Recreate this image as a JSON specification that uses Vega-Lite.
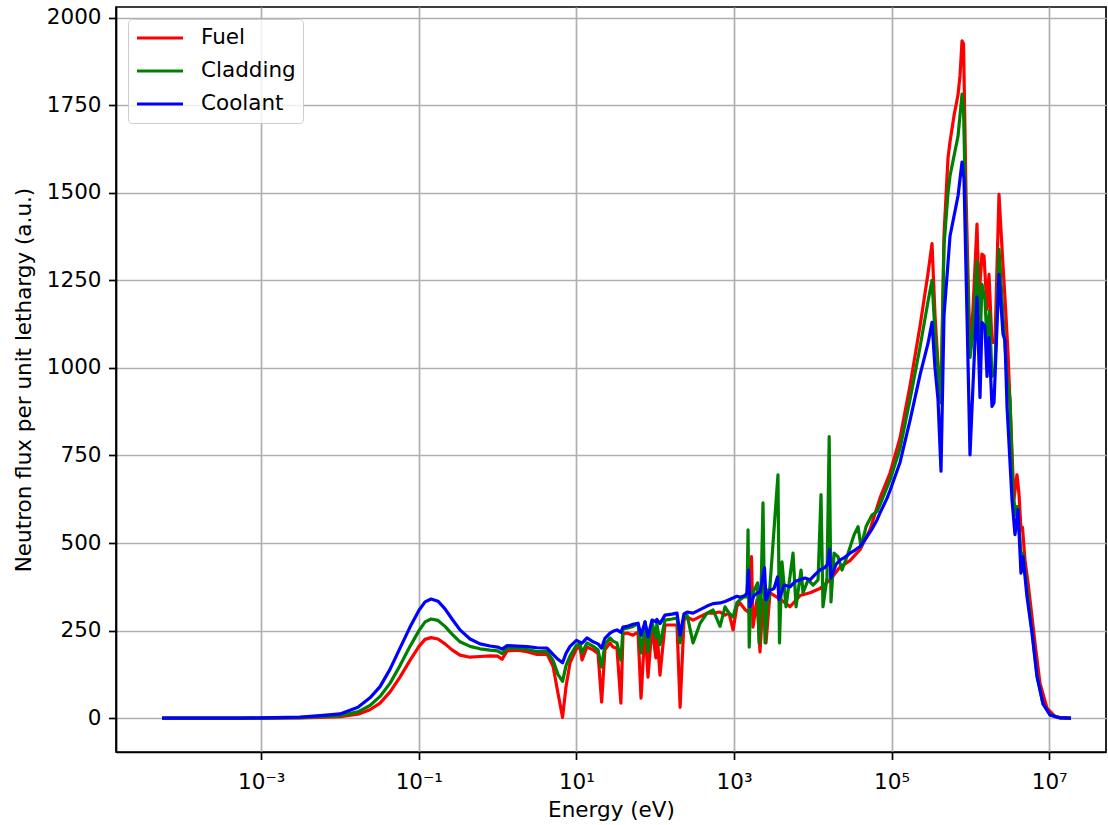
{
  "$schema": "https://vega.github.io/schema/vega-lite/v6.json",
  "width": 990,
  "height": 745,
  "autosize": {"type": "none"},
  "padding": {"left": 116, "top": 7, "right": 2, "bottom": 73},
  "background": "white",
  "config": {
    "font": "DejaVu Sans",
    "view": {"stroke": "#000000", "strokeWidth": 1.7},
    "axis": {
      "domainColor": "#000000", "domainWidth": 1.7,
      "tickColor": "#000000", "tickWidth": 1.7, "tickSize": 7.5,
      "gridColor": "#b0b0b0", "gridWidth": 1.7,
      "labelFont": "DejaVu Sans", "labelFontSize": 21.5, "labelColor": "#000000",
      "titleFont": "DejaVu Sans", "titleFontSize": 21.5, "titleFontWeight": "normal", "titleColor": "#000000"
    }
  },
  "data": {"values": [
    {"material":"Fuel","energy":5.51e-5,"flux":0},{"material":"Fuel","energy":1.67e-4,"flux":0},{"material":"Fuel","energy":5.38e-4,"flux":0},{"material":"Fuel","energy":1.02e-3,"flux":0.1},{"material":"Fuel","energy":3.1e-3,"flux":0.8},{"material":"Fuel","energy":5.57e-3,"flux":2},{"material":"Fuel","energy":0.01,"flux":4},{"material":"Fuel","energy":0.0169,"flux":11},{"material":"Fuel","energy":0.024,"flux":24},{"material":"Fuel","energy":0.0322,"flux":43},{"material":"Fuel","energy":0.0432,"flux":75},{"material":"Fuel","energy":0.0577,"flux":117},{"material":"Fuel","energy":0.0773,"flux":165},{"material":"Fuel","energy":0.1005,"flux":205},{"material":"Fuel","energy":0.12,"flux":225},{"material":"Fuel","energy":0.143,"flux":230},{"material":"Fuel","energy":0.175,"flux":226},{"material":"Fuel","energy":0.215,"flux":212},{"material":"Fuel","energy":0.264,"flux":195},{"material":"Fuel","energy":0.333,"flux":180},{"material":"Fuel","energy":0.447,"flux":174},{"material":"Fuel","energy":0.598,"flux":176},{"material":"Fuel","energy":0.802,"flux":178},{"material":"Fuel","energy":1.0,"flux":177},{"material":"Fuel","energy":1.14,"flux":168},{"material":"Fuel","energy":1.32,"flux":192},{"material":"Fuel","energy":1.76,"flux":194},{"material":"Fuel","energy":2.36,"flux":190},{"material":"Fuel","energy":3.16,"flux":182},{"material":"Fuel","energy":4.24,"flux":183},{"material":"Fuel","energy":5.05,"flux":148},{"material":"Fuel","energy":5.83,"flux":72},{"material":"Fuel","energy":6.67,"flux":2},{"material":"Fuel","energy":7.38,"flux":90},{"material":"Fuel","energy":8.3,"flux":158},{"material":"Fuel","energy":10,"flux":198},{"material":"Fuel","energy":11.1,"flux":203},{"material":"Fuel","energy":11.8,"flux":166},{"material":"Fuel","energy":13.6,"flux":203},{"material":"Fuel","energy":16.3,"flux":195},{"material":"Fuel","energy":18.8,"flux":185},{"material":"Fuel","energy":20.9,"flux":46},{"material":"Fuel","energy":23,"flux":195},{"material":"Fuel","energy":26.7,"flux":215},{"material":"Fuel","energy":29.1,"flux":203},{"material":"Fuel","energy":32.7,"flux":200},{"material":"Fuel","energy":36.7,"flux":43},{"material":"Fuel","energy":39,"flux":240},{"material":"Fuel","energy":43.9,"flux":243},{"material":"Fuel","energy":52.2,"flux":237},{"material":"Fuel","energy":60.5,"flux":246},{"material":"Fuel","energy":66.1,"flux":57},{"material":"Fuel","energy":74.3,"flux":260},{"material":"Fuel","energy":81,"flux":117},{"material":"Fuel","energy":91,"flux":260},{"material":"Fuel","energy":102,"flux":172},{"material":"Fuel","energy":105,"flux":252},{"material":"Fuel","energy":115,"flux":123},{"material":"Fuel","energy":133,"flux":266},{"material":"Fuel","energy":163,"flux":266},{"material":"Fuel","energy":189,"flux":266},{"material":"Fuel","energy":207,"flux":31},{"material":"Fuel","energy":232,"flux":280},{"material":"Fuel","energy":254,"flux":289},{"material":"Fuel","energy":302,"flux":280},{"material":"Fuel","energy":371,"flux":290},{"material":"Fuel","energy":455,"flux":300},{"material":"Fuel","energy":542,"flux":300},{"material":"Fuel","energy":665,"flux":303},{"material":"Fuel","energy":769,"flux":294},{"material":"Fuel","energy":865,"flux":300},{"material":"Fuel","energy":973,"flux":252},{"material":"Fuel","energy":1091,"flux":320},{"material":"Fuel","energy":1191,"flux":329},{"material":"Fuel","energy":1380,"flux":310},{"material":"Fuel","energy":1596,"flux":300},{"material":"Fuel","energy":1667,"flux":461},{"material":"Fuel","energy":1742,"flux":260},{"material":"Fuel","energy":1959,"flux":338},{"material":"Fuel","energy":2138,"flux":189},{"material":"Fuel","energy":2333,"flux":338},{"material":"Fuel","energy":2547,"flux":215},{"material":"Fuel","energy":2864,"flux":358},{"material":"Fuel","energy":3837,"flux":340},{"material":"Fuel","energy":5140,"flux":318},{"material":"Fuel","energy":6887,"flux":350},{"material":"Fuel","energy":9226,"flux":358},{"material":"Fuel","energy":12330,"flux":370},{"material":"Fuel","energy":16600,"flux":395},{"material":"Fuel","energy":22280,"flux":432},{"material":"Fuel","energy":29650,"flux":450},{"material":"Fuel","energy":39720,"flux":481},{"material":"Fuel","energy":53210,"flux":538},{"material":"Fuel","energy":71290,"flux":629},{"material":"Fuel","energy":95500,"flux":700},{"material":"Fuel","energy":127900,"flux":800},{"material":"Fuel","energy":171400,"flux":950},{"material":"Fuel","energy":229600,"flux":1120},{"material":"Fuel","energy":289700,"flux":1270},{"material":"Fuel","energy":325800,"flux":1355},{"material":"Fuel","energy":355600,"flux":1150},{"material":"Fuel","energy":388200,"flux":1010},{"material":"Fuel","energy":423600,"flux":910},{"material":"Fuel","energy":462400,"flux":1380},{"material":"Fuel","energy":520000,"flux":1600},{"material":"Fuel","energy":550800,"flux":1645},{"material":"Fuel","energy":619400,"flux":1720},{"material":"Fuel","energy":696600,"flux":1780},{"material":"Fuel","energy":738200,"flux":1834},{"material":"Fuel","energy":783400,"flux":1934},{"material":"Fuel","energy":818500,"flux":1925},{"material":"Fuel","energy":879000,"flux":1500},{"material":"Fuel","energy":988500,"flux":1040},{"material":"Fuel","energy":1079000,"flux":1167},{"material":"Fuel","energy":1213000,"flux":1411},{"material":"Fuel","energy":1285000,"flux":1196},{"material":"Fuel","energy":1403000,"flux":1325},{"material":"Fuel","energy":1489000,"flux":1320},{"material":"Fuel","energy":1626000,"flux":1167},{"material":"Fuel","energy":1722000,"flux":1267},{"material":"Fuel","energy":1879000,"flux":1073},{"material":"Fuel","energy":2051000,"flux":1073},{"material":"Fuel","energy":2307000,"flux":1496},{"material":"Fuel","energy":2594000,"flux":1291},{"material":"Fuel","energy":2748000,"flux":1200},{"material":"Fuel","energy":3000000,"flux":1044},{"material":"Fuel","energy":3184000,"flux":900},{"material":"Fuel","energy":3570000,"flux":624},{"material":"Fuel","energy":3900000,"flux":695},{"material":"Fuel","energy":4140000,"flux":640},{"material":"Fuel","energy":4385000,"flux":538},{"material":"Fuel","energy":4580000,"flux":545},{"material":"Fuel","energy":4930000,"flux":452},{"material":"Fuel","energy":5390000,"flux":386},{"material":"Fuel","energy":6610000,"flux":214},{"material":"Fuel","energy":7638000,"flux":100},{"material":"Fuel","energy":9376000,"flux":29},{"material":"Fuel","energy":11830000,"flux":5},{"material":"Fuel","energy":13710000,"flux":1.5},{"material":"Fuel","energy":18920000,"flux":0},

    {"material":"Cladding","energy":5.51e-5,"flux":0},{"material":"Cladding","energy":1.67e-4,"flux":0},{"material":"Cladding","energy":5.38e-4,"flux":0.1},{"material":"Cladding","energy":1.02e-3,"flux":0.3},{"material":"Cladding","energy":3.1e-3,"flux":1.5},{"material":"Cladding","energy":5.57e-3,"flux":4},{"material":"Cladding","energy":0.01,"flux":7},{"material":"Cladding","energy":0.0169,"flux":18},{"material":"Cladding","energy":0.024,"flux":36},{"material":"Cladding","energy":0.0322,"flux":62},{"material":"Cladding","energy":0.0432,"flux":100},{"material":"Cladding","energy":0.0577,"flux":150},{"material":"Cladding","energy":0.0773,"flux":205},{"material":"Cladding","energy":0.1005,"flux":250},{"material":"Cladding","energy":0.12,"flux":275},{"material":"Cladding","energy":0.143,"flux":283},{"material":"Cladding","energy":0.175,"flux":279},{"material":"Cladding","energy":0.215,"flux":262},{"material":"Cladding","energy":0.264,"flux":240},{"material":"Cladding","energy":0.333,"flux":218},{"material":"Cladding","energy":0.447,"flux":205},{"material":"Cladding","energy":0.598,"flux":198},{"material":"Cladding","energy":0.802,"flux":194},{"material":"Cladding","energy":1.0,"flux":192},{"material":"Cladding","energy":1.14,"flux":184},{"material":"Cladding","energy":1.32,"flux":200},{"material":"Cladding","energy":1.76,"flux":200},{"material":"Cladding","energy":2.36,"flux":196},{"material":"Cladding","energy":3.16,"flux":190},{"material":"Cladding","energy":4.24,"flux":190},{"material":"Cladding","energy":5.05,"flux":165},{"material":"Cladding","energy":5.83,"flux":125},{"material":"Cladding","energy":6.67,"flux":105},{"material":"Cladding","energy":7.38,"flux":150},{"material":"Cladding","energy":8.3,"flux":178},{"material":"Cladding","energy":10,"flux":208},{"material":"Cladding","energy":11.1,"flux":212},{"material":"Cladding","energy":11.8,"flux":186},{"material":"Cladding","energy":13.6,"flux":215},{"material":"Cladding","energy":16.3,"flux":205},{"material":"Cladding","energy":18.8,"flux":195},{"material":"Cladding","energy":20.9,"flux":146},{"material":"Cladding","energy":23,"flux":210},{"material":"Cladding","energy":26.7,"flux":229},{"material":"Cladding","energy":29.1,"flux":220},{"material":"Cladding","energy":32.7,"flux":215},{"material":"Cladding","energy":36.7,"flux":166},{"material":"Cladding","energy":39,"flux":255},{"material":"Cladding","energy":43.9,"flux":257},{"material":"Cladding","energy":52.2,"flux":262},{"material":"Cladding","energy":60.5,"flux":270},{"material":"Cladding","energy":66.1,"flux":186},{"material":"Cladding","energy":74.3,"flux":275},{"material":"Cladding","energy":81,"flux":189},{"material":"Cladding","energy":91,"flux":275},{"material":"Cladding","energy":102,"flux":230},{"material":"Cladding","energy":105,"flux":270},{"material":"Cladding","energy":115,"flux":210},{"material":"Cladding","energy":133,"flux":280},{"material":"Cladding","energy":163,"flux":283},{"material":"Cladding","energy":189,"flux":286},{"material":"Cladding","energy":207,"flux":215},{"material":"Cladding","energy":232,"flux":290},{"material":"Cladding","energy":254,"flux":294},{"material":"Cladding","energy":302,"flux":215},{"material":"Cladding","energy":371,"flux":271},{"material":"Cladding","energy":455,"flux":300},{"material":"Cladding","energy":542,"flux":309},{"material":"Cladding","energy":665,"flux":262},{"material":"Cladding","energy":769,"flux":318},{"material":"Cladding","energy":865,"flux":300},{"material":"Cladding","energy":973,"flux":289},{"material":"Cladding","energy":1091,"flux":330},{"material":"Cladding","energy":1191,"flux":338},{"material":"Cladding","energy":1340,"flux":346},{"material":"Cladding","energy":1462,"flux":346},{"material":"Cladding","energy":1507,"flux":538},{"material":"Cladding","energy":1560,"flux":203},{"material":"Cladding","energy":1630,"flux":346},{"material":"Cladding","energy":1849,"flux":370},{"material":"Cladding","energy":1991,"flux":386},{"material":"Cladding","energy":2080,"flux":215},{"material":"Cladding","energy":2204,"flux":360},{"material":"Cladding","energy":2333,"flux":615},{"material":"Cladding","energy":2477,"flux":215},{"material":"Cladding","energy":2704,"flux":366},{"material":"Cladding","energy":2781,"flux":340},{"material":"Cladding","energy":3614,"flux":695},{"material":"Cladding","energy":3776,"flux":215},{"material":"Cladding","energy":4064,"flux":446},{"material":"Cladding","energy":4571,"flux":318},{"material":"Cladding","energy":5610,"flux":471},{"material":"Cladding","energy":6124,"flux":318},{"material":"Cladding","energy":7092,"flux":423},{"material":"Cladding","energy":7516,"flux":358},{"material":"Cladding","energy":8716,"flux":395},{"material":"Cladding","energy":10080,"flux":380},{"material":"Cladding","energy":11660,"flux":395},{"material":"Cladding","energy":12710,"flux":638},{"material":"Cladding","energy":13460,"flux":318},{"material":"Cladding","energy":15140,"flux":400},{"material":"Cladding","energy":16140,"flux":804},{"material":"Cladding","energy":17020,"flux":332},{"material":"Cladding","energy":18620,"flux":471},{"material":"Cladding","energy":20890,"flux":461},{"material":"Cladding","energy":23500,"flux":423},{"material":"Cladding","energy":28000,"flux":470},{"material":"Cladding","energy":33340,"flux":523},{"material":"Cladding","energy":37500,"flux":547},{"material":"Cladding","energy":40940,"flux":489},{"material":"Cladding","energy":47420,"flux":547},{"material":"Cladding","energy":56360,"flux":580},{"material":"Cladding","energy":65310,"flux":590},{"material":"Cladding","energy":71290,"flux":610},{"material":"Cladding","energy":95500,"flux":680},{"material":"Cladding","energy":127900,"flux":770},{"material":"Cladding","energy":171400,"flux":910},{"material":"Cladding","energy":229600,"flux":1060},{"material":"Cladding","energy":289700,"flux":1190},{"material":"Cladding","energy":325800,"flux":1250},{"material":"Cladding","energy":355600,"flux":1100},{"material":"Cladding","energy":388200,"flux":1000},{"material":"Cladding","energy":423600,"flux":900},{"material":"Cladding","energy":462400,"flux":1350},{"material":"Cladding","energy":520000,"flux":1500},{"material":"Cladding","energy":550800,"flux":1548},{"material":"Cladding","energy":696600,"flux":1662},{"material":"Cladding","energy":783400,"flux":1782},{"material":"Cladding","energy":818500,"flux":1740},{"material":"Cladding","energy":879000,"flux":1400},{"material":"Cladding","energy":988500,"flux":1030},{"material":"Cladding","energy":1079000,"flux":1100},{"material":"Cladding","energy":1213000,"flux":1305},{"material":"Cladding","energy":1330000,"flux":1073},{"material":"Cladding","energy":1403000,"flux":1239},{"material":"Cladding","energy":1531000,"flux":1196},{"material":"Cladding","energy":1626000,"flux":1073},{"material":"Cladding","energy":1746000,"flux":1162},{"material":"Cladding","energy":1879000,"flux":976},{"material":"Cladding","energy":2051000,"flux":1000},{"material":"Cladding","energy":2307000,"flux":1339},{"material":"Cladding","energy":2594000,"flux":1148},{"material":"Cladding","energy":2917000,"flux":976},{"material":"Cladding","energy":3184000,"flux":910},{"material":"Cladding","energy":3475000,"flux":640},{"material":"Cladding","energy":3790000,"flux":580},{"material":"Cladding","energy":3960000,"flux":604},{"material":"Cladding","energy":4385000,"flux":471},{"material":"Cladding","energy":4656000,"flux":470},{"material":"Cladding","energy":5224000,"flux":370},{"material":"Cladding","energy":6053000,"flux":250},{"material":"Cladding","energy":7000000,"flux":125},{"material":"Cladding","energy":8337000,"flux":40},{"material":"Cladding","energy":10230000,"flux":10},{"material":"Cladding","energy":13710000,"flux":1},{"material":"Cladding","energy":18920000,"flux":0},

    {"material":"Coolant","energy":5.51e-5,"flux":0},{"material":"Coolant","energy":1.67e-4,"flux":0},{"material":"Coolant","energy":5.38e-4,"flux":0.2},{"material":"Coolant","energy":1.02e-3,"flux":0.6},{"material":"Coolant","energy":3.1e-3,"flux":3},{"material":"Coolant","energy":5.57e-3,"flux":7},{"material":"Coolant","energy":0.01,"flux":12},{"material":"Coolant","energy":0.0169,"flux":31},{"material":"Coolant","energy":0.024,"flux":58},{"material":"Coolant","energy":0.0322,"flux":90},{"material":"Coolant","energy":0.0432,"flux":140},{"material":"Coolant","energy":0.0577,"flux":200},{"material":"Coolant","energy":0.0773,"flux":260},{"material":"Coolant","energy":0.1005,"flux":308},{"material":"Coolant","energy":0.12,"flux":332},{"material":"Coolant","energy":0.143,"flux":340},{"material":"Coolant","energy":0.175,"flux":334},{"material":"Coolant","energy":0.215,"flux":312},{"material":"Coolant","energy":0.264,"flux":283},{"material":"Coolant","energy":0.333,"flux":252},{"material":"Coolant","energy":0.447,"flux":226},{"material":"Coolant","energy":0.598,"flux":212},{"material":"Coolant","energy":0.802,"flux":206},{"material":"Coolant","energy":1.0,"flux":203},{"material":"Coolant","energy":1.14,"flux":197},{"material":"Coolant","energy":1.32,"flux":207},{"material":"Coolant","energy":1.76,"flux":206},{"material":"Coolant","energy":2.36,"flux":204},{"material":"Coolant","energy":3.16,"flux":201},{"material":"Coolant","energy":4.24,"flux":200},{"material":"Coolant","energy":5.05,"flux":182},{"material":"Coolant","energy":5.83,"flux":168},{"material":"Coolant","energy":6.67,"flux":158},{"material":"Coolant","energy":7.38,"flux":185},{"material":"Coolant","energy":8.3,"flux":205},{"material":"Coolant","energy":10,"flux":222},{"material":"Coolant","energy":11.1,"flux":217},{"material":"Coolant","energy":11.8,"flux":214},{"material":"Coolant","energy":13.6,"flux":229},{"material":"Coolant","energy":16.3,"flux":218},{"material":"Coolant","energy":18.8,"flux":212},{"material":"Coolant","energy":20.9,"flux":200},{"material":"Coolant","energy":23,"flux":228},{"material":"Coolant","energy":26.7,"flux":243},{"material":"Coolant","energy":29.1,"flux":248},{"material":"Coolant","energy":32.7,"flux":252},{"material":"Coolant","energy":36.7,"flux":245},{"material":"Coolant","energy":39,"flux":260},{"material":"Coolant","energy":43.9,"flux":262},{"material":"Coolant","energy":52.2,"flux":268},{"material":"Coolant","energy":60.5,"flux":271},{"material":"Coolant","energy":66.1,"flux":237},{"material":"Coolant","energy":74.3,"flux":275},{"material":"Coolant","energy":81,"flux":232},{"material":"Coolant","energy":91,"flux":280},{"material":"Coolant","energy":102,"flux":275},{"material":"Coolant","energy":105,"flux":282},{"material":"Coolant","energy":115,"flux":270},{"material":"Coolant","energy":133,"flux":294},{"material":"Coolant","energy":163,"flux":297},{"material":"Coolant","energy":189,"flux":300},{"material":"Coolant","energy":207,"flux":237},{"material":"Coolant","energy":232,"flux":298},{"material":"Coolant","energy":254,"flux":303},{"material":"Coolant","energy":302,"flux":300},{"material":"Coolant","energy":371,"flux":310},{"material":"Coolant","energy":455,"flux":320},{"material":"Coolant","energy":542,"flux":327},{"material":"Coolant","energy":665,"flux":329},{"material":"Coolant","energy":769,"flux":333},{"material":"Coolant","energy":865,"flux":338},{"material":"Coolant","energy":973,"flux":343},{"material":"Coolant","energy":1091,"flux":348},{"material":"Coolant","energy":1191,"flux":345},{"material":"Coolant","energy":1380,"flux":350},{"material":"Coolant","energy":1462,"flux":358},{"material":"Coolant","energy":1528,"flux":423},{"material":"Coolant","energy":1596,"flux":318},{"material":"Coolant","energy":1795,"flux":350},{"material":"Coolant","energy":1959,"flux":357},{"material":"Coolant","energy":2138,"flux":360},{"material":"Coolant","energy":2438,"flux":429},{"material":"Coolant","energy":2547,"flux":338},{"material":"Coolant","energy":2864,"flux":365},{"material":"Coolant","energy":3221,"flux":370},{"material":"Coolant","energy":3565,"flux":403},{"material":"Coolant","energy":3724,"flux":338},{"material":"Coolant","energy":4315,"flux":380},{"material":"Coolant","energy":5140,"flux":375},{"material":"Coolant","energy":5943,"flux":390},{"material":"Coolant","energy":6887,"flux":395},{"material":"Coolant","energy":7962,"flux":400},{"material":"Coolant","energy":9226,"flux":395},{"material":"Coolant","energy":10670,"flux":410},{"material":"Coolant","energy":12330,"flux":423},{"material":"Coolant","energy":14190,"flux":430},{"material":"Coolant","energy":15490,"flux":440},{"material":"Coolant","energy":16290,"flux":481},{"material":"Coolant","energy":17020,"flux":400},{"material":"Coolant","energy":19810,"flux":440},{"material":"Coolant","energy":22280,"flux":452},{"material":"Coolant","energy":25760,"flux":460},{"material":"Coolant","energy":29650,"flux":471},{"material":"Coolant","energy":34360,"flux":480},{"material":"Coolant","energy":39720,"flux":490},{"material":"Coolant","energy":48750,"flux":518},{"material":"Coolant","energy":56360,"flux":540},{"material":"Coolant","energy":65310,"flux":566},{"material":"Coolant","energy":71290,"flux":586},{"material":"Coolant","energy":87900,"flux":629},{"material":"Coolant","energy":95500,"flux":650},{"material":"Coolant","energy":127900,"flux":730},{"material":"Coolant","energy":171400,"flux":850},{"material":"Coolant","energy":229600,"flux":980},{"material":"Coolant","energy":289700,"flux":1070},{"material":"Coolant","energy":325800,"flux":1130},{"material":"Coolant","energy":355600,"flux":1000},{"material":"Coolant","energy":388200,"flux":910},{"material":"Coolant","energy":423600,"flux":705},{"material":"Coolant","energy":462400,"flux":1150},{"material":"Coolant","energy":520000,"flux":1300},{"material":"Coolant","energy":550800,"flux":1376},{"material":"Coolant","energy":696600,"flux":1491},{"material":"Coolant","energy":783400,"flux":1588},{"material":"Coolant","energy":829800,"flux":1540},{"material":"Coolant","energy":905700,"flux":1150},{"material":"Coolant","energy":988500,"flux":752},{"material":"Coolant","energy":1079000,"flux":950},{"material":"Coolant","energy":1213000,"flux":1202},{"material":"Coolant","energy":1324000,"flux":916},{"material":"Coolant","energy":1403000,"flux":1130},{"material":"Coolant","energy":1531000,"flux":1119},{"material":"Coolant","energy":1626000,"flux":976},{"material":"Coolant","energy":1722000,"flux":1087},{"material":"Coolant","energy":1879000,"flux":890},{"material":"Coolant","energy":1995000,"flux":901},{"material":"Coolant","energy":2307000,"flux":1267},{"material":"Coolant","energy":2594000,"flux":1096},{"material":"Coolant","energy":2748000,"flux":1080},{"material":"Coolant","energy":2917000,"flux":890},{"material":"Coolant","energy":3373000,"flux":624},{"material":"Coolant","energy":3681000,"flux":524},{"material":"Coolant","energy":4018000,"flux":595},{"material":"Coolant","energy":4385000,"flux":414},{"material":"Coolant","energy":4656000,"flux":461},{"material":"Coolant","energy":5224000,"flux":347},{"material":"Coolant","energy":6053000,"flux":243},{"material":"Coolant","energy":7000000,"flux":118},{"material":"Coolant","energy":8337000,"flux":42},{"material":"Coolant","energy":10230000,"flux":9},{"material":"Coolant","energy":13710000,"flux":0.5},{"material":"Coolant","energy":18920000,"flux":0}
  ]},
  "mark": {"type": "line", "strokeWidth": 3.2, "strokeJoin": "round", "clip": true},
  "encoding": {
    "x": {
      "field": "energy", "type": "quantitative",
      "scale": {"type": "log", "domain": [1.435e-5, 5.26e7], "nice": false},
      "axis": {
        "values": [0.001, 0.1, 10, 1000, 100000, 10000000],
        "labelExpr": "datum.value < 0.01 ? '10⁻³' : datum.value < 1 ? '10⁻¹' : datum.value < 100 ? '10¹' : datum.value < 10000 ? '10³' : datum.value < 1000000 ? '10⁵' : '10⁷'",
        "labelBaseline": "alphabetic", "labelPadding": 29, "labelFlush": false,
        "title": "Energy (eV)", "titleBaseline": "alphabetic", "titleX": 495, "titleY": 64
      }
    },
    "y": {
      "field": "flux", "type": "quantitative",
      "scale": {"domain": [-96.7, 2030.7], "nice": false, "zero": false},
      "axis": {
        "values": [0, 250, 500, 750, 1000, 1250, 1500, 1750, 2000],
        "format": "d", "labelPadding": 7.5,
        "title": "Neutron flux per unit lethargy (a.u.)",
        "titleBaseline": "alphabetic", "titleAlign": "center", "titleAngle": 270,
        "titleX": -86, "titleY": 372.5
      }
    },
    "color": {
      "field": "material", "type": "nominal",
      "scale": {"domain": ["Fuel", "Cladding", "Coolant"], "range": ["#ff0000", "#008000", "#0000ff"]},
      "legend": {
        "title": null, "orient": "top-left", "offset": 11.7,
        "symbolType": "stroke", "symbolSize": 2116, "symbolStrokeWidth": 3.2,
        "labelFontSize": 21.5, "labelFont": "DejaVu Sans", "labelColor": "#000000", "labelOffset": 16,
        "clipHeight": 24, "rowPadding": 9, "padding": 7,
        "strokeColor": "#cccccc", "fillColor": "rgba(255,255,255,0.8)", "cornerRadius": 4
      }
    }
  }
}
